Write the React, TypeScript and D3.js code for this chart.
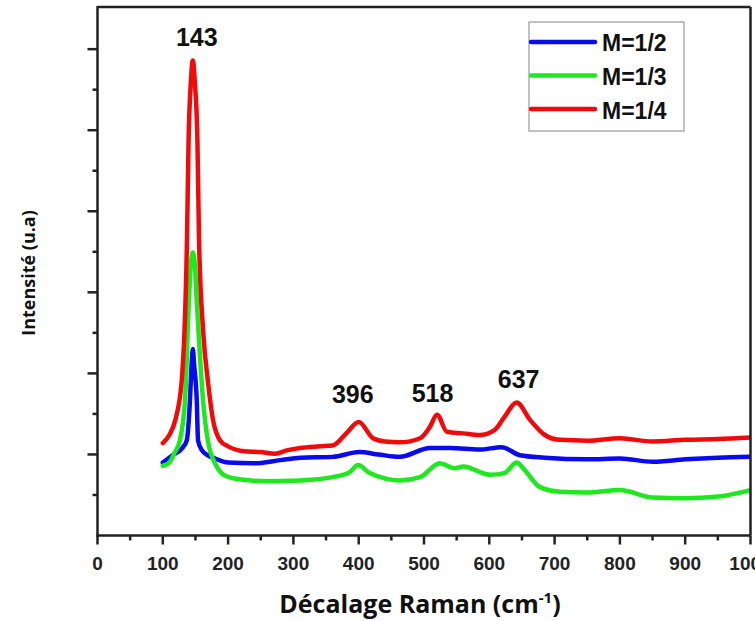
import React from "react";
import * as d3 from "d3";

// ---- Data ----
const xTicks = [0, 100, 200, 300, 400, 500, 600, 700, 800, 900, 1000];
const xTickLabels = ["0", "100", "200", "300", "400", "500", "600", "700", "800", "900", "1000"];

const redX = [100, 110, 119, 129, 137, 139.5, 143, 146, 149, 153, 155.5, 162, 169, 177, 188, 200, 225, 249, 272, 290, 310, 340, 360, 382, 400, 422, 440, 463, 494, 509, 520, 535, 560, 585, 608, 623, 642, 662, 685, 708, 750, 800, 850, 900, 950, 1000];
const redY = [1.14, 1.24, 1.42, 1.91, 3.64, 4.88, 5.6, 5.86, 5.6, 4.88, 3.64, 2.5, 1.91, 1.42, 1.17, 1.10, 1.04, 1.03, 1.01, 1.05, 1.08, 1.10, 1.11, 1.27, 1.40, 1.20, 1.16, 1.15, 1.20, 1.34, 1.49, 1.28, 1.26, 1.24, 1.30, 1.46, 1.64, 1.43, 1.24, 1.18, 1.17, 1.20, 1.16, 1.18, 1.19, 1.21];

const blueX = [100, 115, 130, 136.6, 141.6, 144, 146, 148, 152, 154, 160, 169, 180, 200, 240, 280, 311, 360, 401, 430, 463, 509, 540, 585, 619, 647, 685, 750, 800, 850, 900, 950, 1000];
const blueY = [0.90, 0.99, 1.08, 1.17, 1.67, 2.1, 2.30, 2.1, 1.67, 1.17, 1.05, 0.99, 0.95, 0.90, 0.89, 0.93, 0.96, 0.97, 1.03, 1.00, 0.97, 1.08, 1.08, 1.06, 1.09, 0.99, 0.96, 0.94, 0.95, 0.91, 0.94, 0.96, 0.97];

const greenX = [100, 110, 118, 126, 134, 140, 143, 146, 149, 152, 161.6, 169, 182, 195, 220, 260, 311, 360, 386, 399, 417, 463, 494, 524, 547, 560, 601, 623, 642, 654, 677, 708, 750, 800, 850, 900, 950, 1000];
const greenY = [0.86, 0.90, 1.02, 1.17, 1.67, 2.90, 3.35, 3.49, 3.35, 2.90, 1.67, 1.17, 0.86, 0.74, 0.69, 0.67, 0.68, 0.72, 0.78, 0.87, 0.77, 0.68, 0.72, 0.89, 0.83, 0.85, 0.75, 0.77, 0.90, 0.81, 0.60, 0.54, 0.53, 0.56, 0.47, 0.46, 0.48, 0.56];

const seriesNames = ["M=1/2", "M=1/3", "M=1/4"];
const seriesColors = ["#0a0aee", "#1ee81e", "#f20a0a"];

const peakLabels = ["143", "396", "518", "637"];
const peakLabelX = [152, 391, 513, 645];
const peakLabelY = [6.04, 1.64, 1.65, 1.82];

const W = 755;
const H = 621;
const left = 97.5;
const right = 750.5;
const top = 7;
const bottom = 535.5;

export default function App() {
  const x = d3.scaleLinear().domain([0, 1000]).range([left, right]);
  const y = d3.scaleLinear().domain([0, 6.52]).range([bottom, top]);

  const line = d3
    .line<[number, number]>()
    .x((d) => x(d[0]))
    .y((d) => y(d[1]))
    .curve(d3.curveMonotoneX);

  const series = [
    { xs: blueX, ys: blueY },
    { xs: greenX, ys: greenY },
    { xs: redX, ys: redY },
  ];

  const minorX = d3.range(50, 1000, 100);
  const majorY = d3.range(1, 7, 1);
  const minorY = d3.range(0.5, 6.5, 1);

  const tickFont = "'Liberation Sans', Arial, sans-serif";
  const titleFont = "'Open Sans', 'DejaVu Sans', sans-serif";
  const axisColor = "#222";

  const legendX = 529;
  const legendY = 22;

  return (
    <svg
      width={W}
      height={H}
      style={{ position: "absolute", left: 0, top: 0, background: "#fff" }}
    >
      <defs>
        <clipPath id="plotclip">
          <rect x={left} y={top} width={right - left} height={bottom - top} />
        </clipPath>
      </defs>

      {/* series lines */}
      <g clipPath="url(#plotclip)">
        {series.map((s, i) => (
          <path
            key={i}
            d={line(s.xs.map((v, k) => [v, s.ys[k]]) as [number, number][]) || ""}
            fill="none"
            stroke={seriesColors[i]}
            strokeWidth={4.5}
            strokeLinejoin="round"
            strokeLinecap="round"
          />
        ))}
      </g>

      {/* frame */}
      <line x1={left} x2={right} y1={top} y2={top} stroke={axisColor} strokeWidth={2.5} />
      <line x1={right} x2={right} y1={top} y2={bottom} stroke={axisColor} strokeWidth={2.5} />
      <line x1={left} x2={left} y1={top - 1} y2={bottom + 1} stroke={axisColor} strokeWidth={2.5} />
      <line x1={left - 1} x2={right} y1={bottom} y2={bottom} stroke={axisColor} strokeWidth={2.5} />

      {/* x ticks */}
      {xTicks.map((t, i) => (
        <g key={"xt" + i}>
          <line x1={x(t)} x2={x(t)} y1={bottom} y2={bottom + 9} stroke={axisColor} strokeWidth={2.5} />
          <text
            x={x(t)}
            y={bottom + 34}
            textAnchor="middle"
            fontFamily={tickFont}
            fontWeight="bold"
            fontSize={19}
            fill="#222"
          >
            {xTickLabels[i]}
          </text>
        </g>
      ))}
      {minorX.map((t, i) => (
        <line key={"xm" + i} x1={x(t)} x2={x(t)} y1={bottom} y2={bottom + 5} stroke={axisColor} strokeWidth={2.5} />
      ))}

      {/* y ticks */}
      {majorY.map((t, i) => (
        <line key={"ym" + i} x1={left - 10} x2={left} y1={y(t)} y2={y(t)} stroke={axisColor} strokeWidth={2.5} />
      ))}
      {minorY.map((t, i) => (
        <line key={"yn" + i} x1={left - 5} x2={left} y1={y(t)} y2={y(t)} stroke={axisColor} strokeWidth={2.5} />
      ))}

      {/* peak labels */}
      {peakLabels.map((p, i) => (
        <text
          key={"pk" + i}
          x={x(peakLabelX[i])}
          y={y(peakLabelY[i])}
          textAnchor="middle"
          fontFamily={tickFont}
          fontWeight="bold"
          fontSize={25}
          fill="#111"
        >
          {p}
        </text>
      ))}

      {/* legend */}
      <rect x={legendX} y={legendY} width={155} height={109} fill="#fff" stroke="#999" strokeWidth={1.2} />
      {seriesNames.map((n, i) => (
        <g key={"lg" + i}>
          <line
            x1={legendX + 2}
            x2={legendX + 66}
            y1={legendY + 20 + i * 33.5}
            y2={legendY + 20 + i * 33.5}
            stroke={seriesColors[i]}
            strokeWidth={4.5}
            strokeLinecap="round"
          />
          <text
            x={legendX + 73}
            y={legendY + 29 + i * 34}
            fontFamily={tickFont}
            fontWeight="bold"
            fontSize={23}
            fill="#111"
          >
            {n}
          </text>
        </g>
      ))}

      {/* axis titles */}
      <text
        x={420}
        y={613}
        textAnchor="middle"
        fontFamily={titleFont}
        fontWeight="bold"
        fontSize={25}
        fill="#111"
      >
        Décalage Raman (cm
        <tspan fontSize={15} dy={-10}>-1</tspan>
        <tspan dy={10}>)</tspan>
      </text>
      <text
        transform={`translate(35, 273) rotate(-90)`}
        textAnchor="middle"
        fontFamily={titleFont}
        fontWeight="bold"
        fontSize={18}
        fill="#111"
      >
        Intensité (u.a)
      </text>
    </svg>
  );
}
